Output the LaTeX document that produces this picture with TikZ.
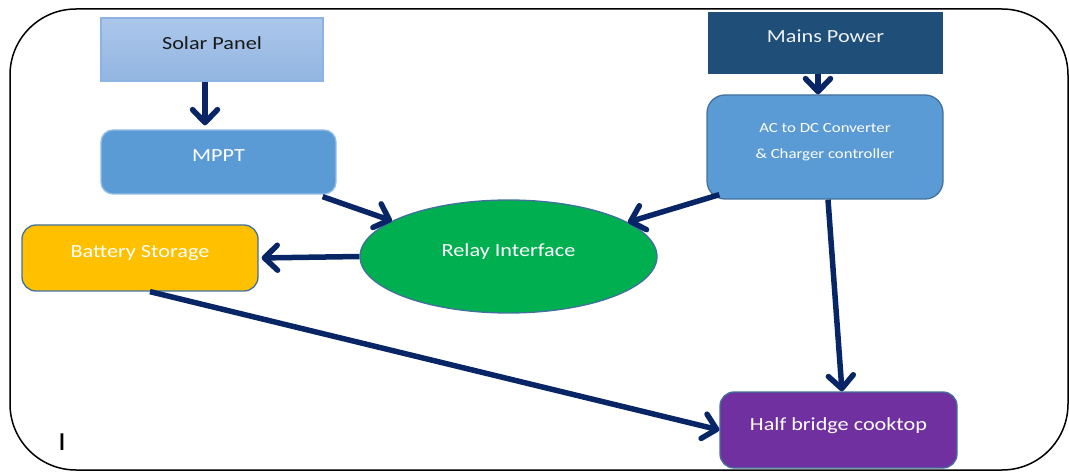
\documentclass[tikz,border=0pt]{standalone}
\usepackage{fontspec}
\setmainfont{Carlito}[FakeStretch=1.2]
\usepackage{tikz}
\usetikzlibrary{arrows.meta,shapes.geometric}
\definecolor{solar-top}{RGB}{172,199,235}
\definecolor{solar-bottom}{RGB}{146,181,225}
\definecolor{solar-line}{RGB}{141,179,226}
\definecolor{box-blue}{RGB}{91,155,213}
\definecolor{mppt-line}{RGB}{150,190,230}
\definecolor{mains-blue}{RGB}{31,78,121}
\definecolor{edge-blue}{RGB}{65,113,156}
\definecolor{battery-yellow}{RGB}{255,192,0}
\definecolor{relay-green}{RGB}{0,176,80}
\definecolor{cooktop-purple}{RGB}{112,48,160}
\definecolor{arrow-navy}{RGB}{8,38,102}
\tikzset{
	blockbox/.style={text height=6pt, text depth=6pt, inner sep=0pt, line width=1.3pt, text=white, font=\fontsize{18.5}{22}\selectfont},
	flow/.style={draw=arrow-navy, line width=5.5pt, -{Straight Barb[length=13pt,width=25pt,line cap=round,line join=round]}}
}
\tikzstyle{roundbox}=[blockbox, rounded corners=14pt, draw=edge-blue]

\begin{document}
\begin{tikzpicture}[x=1pt,y=-1pt]
	\useasboundingbox (0,0) rectangle (1069,473);
	\draw[line width=1.5pt, rounded corners=66pt] (10,9) rectangle (1068,470);
	\node[blockbox, minimum width=222pt, minimum height=63pt, top color=solar-top, bottom color=solar-bottom, draw=solar-line, text=black!90] (solar) at (212,49.5) {Solar Panel};
	\node[roundbox, minimum width=235pt, minimum height=64pt, rounded corners=12pt, fill=box-blue, draw=mppt-line] (mppt) at (218.5,162) {MPPT};
	\node[blockbox, minimum width=233pt, minimum height=60pt, fill=mains-blue, draw=mains-blue, text=white!92!mains-blue] (mains) at (825.5,43) {Mains Power};
	\node[roundbox, minimum width=236pt, minimum height=104pt, rounded corners=18pt, fill=box-blue] (acdc) at (825,147) {};
	\node[text=white, align=center, font=\fontsize{14}{26.5}\selectfont] (acdctext) at ([yshift=5pt]acdc.center) {AC to DC Converter\\\& Charger controller};
	\node[roundbox, minimum width=236pt, minimum height=66pt, fill=battery-yellow] (battery) at (140,258) {Battery Storage};
	\node[blockbox, ellipse, minimum width=297pt, minimum height=113pt, fill=relay-green, draw=edge-blue] (relay) at (508.5,256.5) {Relay Interface};
	\node[roundbox, minimum width=237pt, minimum height=76pt, fill=cooktop-purple] (half) at (838.5,430) {Half bridge cooktop};
	\node[font=\fontsize{26}{26}\selectfont] (cursor) at (62,442) {I};
	\draw[flow, shorten >=4pt] ([xshift=-7pt]solar.south) -- ([xshift=-13.5pt]mppt.north);
	\draw[flow] ([xshift=-7.5pt]mains.south) -- ([xshift=-7pt]acdc.north);
	\draw[flow] ([xshift=-14pt,yshift=-2pt]mppt.south east) -- (relay.163);
	\draw[flow] ([shift={(13pt,5pt)}]acdc.south west) -- (relay.16);
	\draw[flow, shorten >=3pt] (relay.west) -- (battery.east);
	\draw[flow] ([xshift=10pt]battery.south) -- (half.west);
	\draw[flow] ([xshift=3pt]acdc.south) -- ([xshift=3.5pt]half.north);
\end{tikzpicture}
\end{document}
